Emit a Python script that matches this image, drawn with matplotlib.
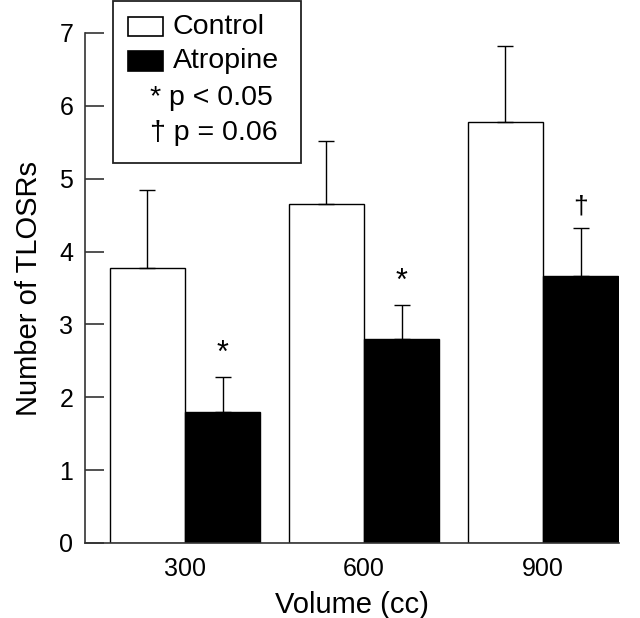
import matplotlib
matplotlib.use("Agg")
import matplotlib.pyplot as plt
from matplotlib.patches import Rectangle
import numpy as np

plt.rcParams['font.family'] = ['Liberation Sans', 'DejaVu Sans']

volumes = ["300", "600", "900"]
control = [3.78, 4.65, 5.78]
control_err = [1.07, 0.87, 1.04]
atropine = [1.80, 2.80, 3.66]
atropine_err = [0.48, 0.47, 0.66]
marks = ["*", "*", "\u2020"]
y_ticks = [0, 1, 2, 3, 4, 5, 6, 7]

fig = plt.figure(figsize=(6.4, 6.18), dpi=100)
ax = fig.add_axes([85/640, 75/618, (619-85)/640, (543-33)/618])

x = np.arange(len(volumes))
w = 0.42
ekw = dict(ecolor='black', elinewidth=1.0, capsize=6, capthick=1.0)
ax.bar(x, control, width=-w, align='edge', color='white', edgecolor='black', linewidth=1.0,
       yerr=[np.zeros(3), control_err], error_kw=ekw, zorder=2)
ax.bar(x, atropine, width=w, align='edge', color='black', edgecolor='black', linewidth=1.0,
       yerr=[np.zeros(3), atropine_err], error_kw=ekw, zorder=2)
for i in range(len(volumes)):
    top = atropine[i] + atropine_err[i]
    if marks[i] == "*":
        ax.annotate(marks[i], xy=(x[i] + w/2, top), xytext=(0, 6),
                    textcoords='offset points', ha='center', va='bottom', fontsize=22)
    else:
        ax.annotate(marks[i], xy=(x[i] + w/2, top), xytext=(0, 7),
                    textcoords='offset points', ha='center', va='bottom', fontsize=19)

ax.set_xlim(-0.559, 2.425)
ax.set_ylim(0, 7)
ax.set_xticks(x)
ax.set_xticklabels(volumes)
ax.set_yticks(y_ticks)
ax.tick_params(axis='y', direction='in', length=13.5, width=1.2, pad=8.5, labelsize=18, color='#333333')
ax.tick_params(axis='x', length=0, pad=10, labelsize=18)
for s in ['top', 'right']:
    ax.spines[s].set_visible(False)
for s in ['left', 'bottom']:
    ax.spines[s].set_linewidth(1.2)
    ax.spines[s].set_color('#333333')
ax.set_xlabel("Volume (cc)", fontsize=21, labelpad=7)
ax.set_ylabel("Number of TLOSRs", fontsize=21, labelpad=12)

H = 618.0
def fy(py):
    return (H - py) / H
def fx(px):
    return px / 640.0

fig.patches.append(Rectangle((fx(113), fy(163)), fx(301) - fx(113), fy(1) - fy(163),
                             transform=fig.transFigure, facecolor='white', edgecolor='#222222',
                             linewidth=1.3, zorder=5))
fig.patches.append(Rectangle((fx(128), fy(36)), fx(163) - fx(128), fy(17) - fy(36),
                             transform=fig.transFigure, facecolor='white', edgecolor='black',
                             linewidth=1.2, zorder=6))
fig.patches.append(Rectangle((fx(128), fy(71)), fx(163) - fx(128), fy(51) - fy(71),
                             transform=fig.transFigure, facecolor='black', edgecolor='black',
                             linewidth=1.2, zorder=6))
fig.text(fx(173), fy(27), "Control", fontsize=20.5, va='center', ha='left', zorder=7)
fig.text(fx(173), fy(61), "Atropine", fontsize=20.5, va='center', ha='left', zorder=7)
fig.text(fx(150), fy(98), "* p < 0.05", fontsize=20.5, va='center', ha='left', zorder=7)
fig.text(fx(150), fy(133), "\u2020 p = 0.06", fontsize=20.5, va='center', ha='left', zorder=7)

fig.savefig("out.png", dpi=100, facecolor='white')
